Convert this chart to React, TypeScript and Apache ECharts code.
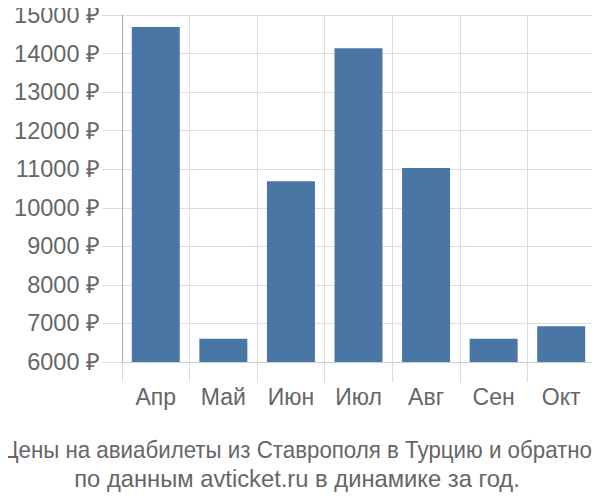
import React, { useEffect, useRef } from "react";
import * as echarts from "echarts";

const categories = ["Апр", "Май", "Июн", "Июл", "Авг", "Сен", "Окт"];
const prices = [14690, 6600, 10690, 14140, 11030, 6600, 6930];
const titleLines = [
  "Цены на авиабилеты из Ставрополя в Турцию и обратно",
  "по данным avticket.ru в динамике за год.",
];
const titleScales = [0.93, 0.99];

export default function App() {
  const ref = useRef<HTMLDivElement>(null);
  useEffect(() => {
    const chart = echarts.init(ref.current!, null, { renderer: "svg" });
    chart.setOption({
      animation: false,
      graphic: titleLines.map((line, i) => ({
        type: "text",
        x: 297,
        y: 450 + i * 28,
        scaleX: titleScales[i],
        originX: 0,
        style: {
          text: line,
          fontFamily: "'Liberation Sans', Arial, sans-serif",
          fontSize: 24,
          fill: "#666",
          align: "center",
          verticalAlign: "middle",
        },
      })),
      grid: { left: 122, right: 5, top: 15, bottom: 138 },
      xAxis: {
        type: "category",
        data: categories,
        axisLine: { show: true, lineStyle: { color: "#ccc" } },
        axisTick: { show: true, length: 20, lineStyle: { color: "#ddd" }, interval: 0 },
        splitLine: { show: true, lineStyle: { color: "#ddd" }, interval: 0 },
        axisLabel: {
          color: "#666",
          fontSize: 23,
          fontFamily: "'Liberation Sans', Arial, sans-serif",
          margin: 23,
        },
      },
      yAxis: {
        type: "value",
        min: 6000,
        max: 15000,
        interval: 1000,
        axisLine: { show: true, lineStyle: { color: "#aaa" } },
        axisTick: { show: true, length: 20, lineStyle: { color: "#ddd" } },
        splitLine: { show: true, lineStyle: { color: "#ddd" } },
        axisLabel: {
          color: "#666",
          fontSize: 23.5,
          fontFamily: "'Liberation Sans', Arial, sans-serif",
          margin: 22,
          formatter: (v: number) => v + " ₽",
        },
      },
      series: [
        {
          type: "bar",
          data: prices,
          barCategoryGap: "29%",
          itemStyle: { color: "#4a76a6" },
        },
      ],
    });
    return () => chart.dispose();
  }, []);
  return <div ref={ref} style={{ width: 600, height: 500, margin: -8 }} />;
}
